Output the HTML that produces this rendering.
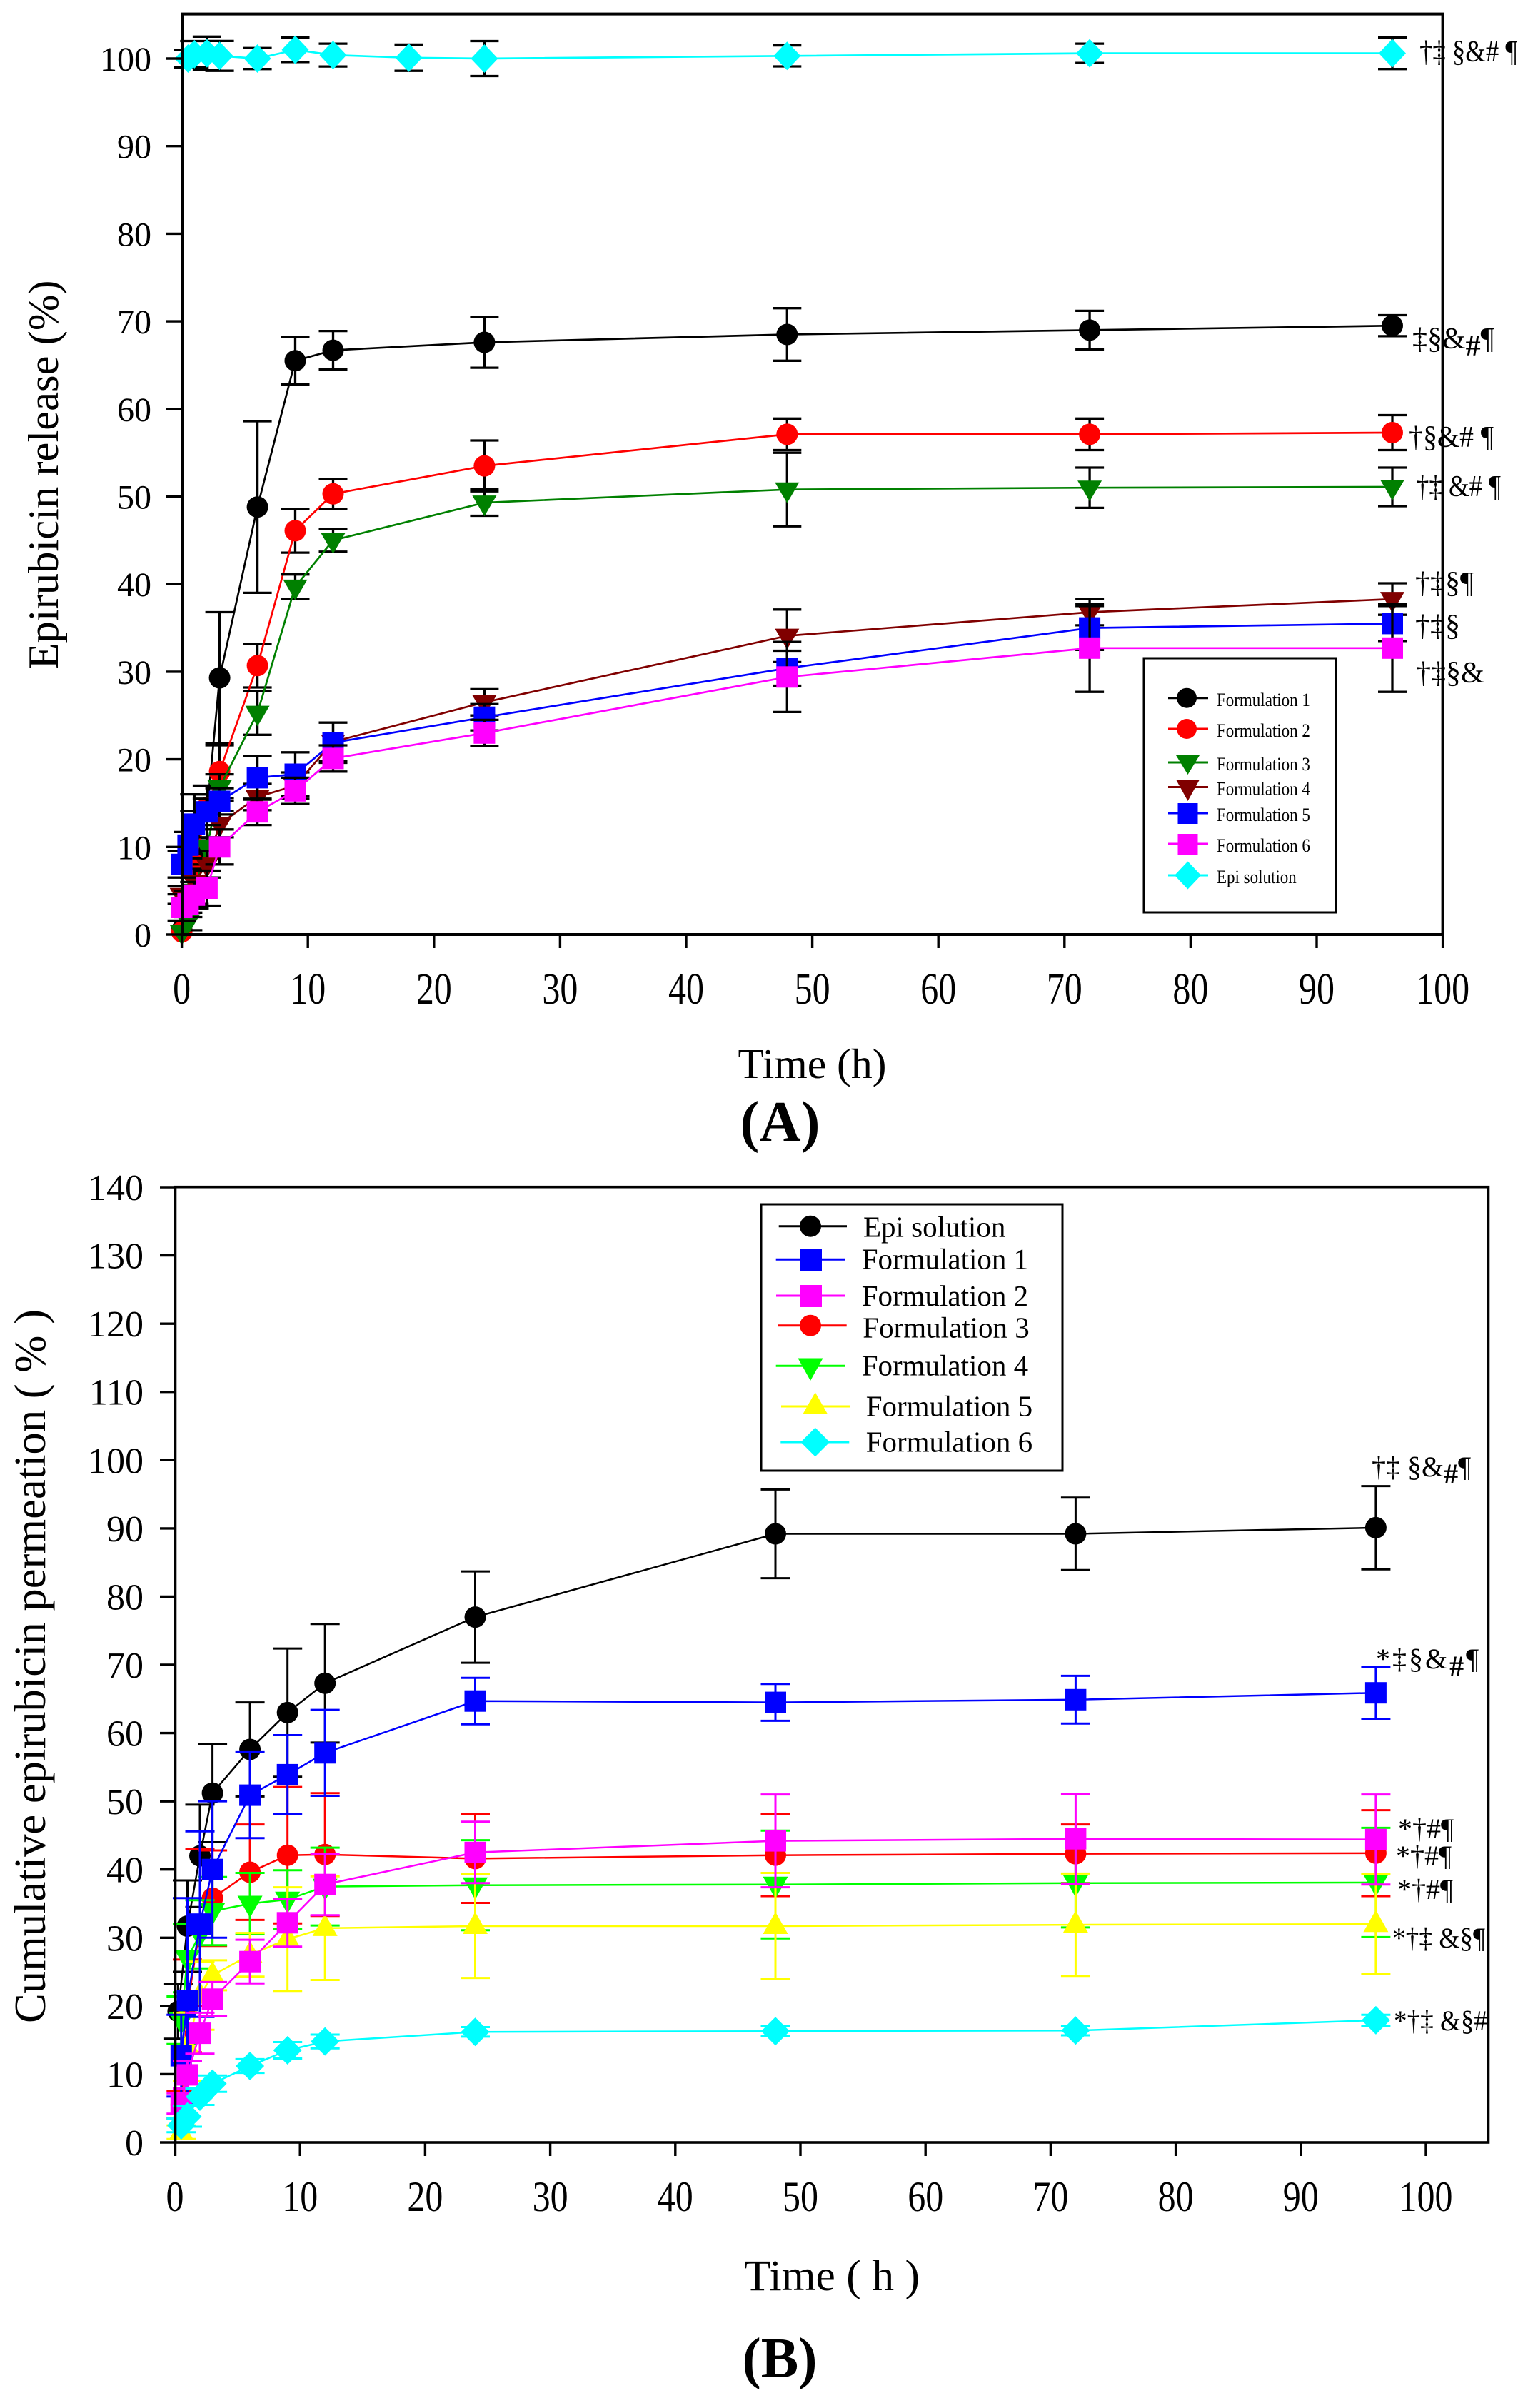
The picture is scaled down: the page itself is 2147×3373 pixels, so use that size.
<!DOCTYPE html>
<html><head><meta charset="utf-8"><style>html,body{margin:0;padding:0;background:#fff}svg{display:block}</style></head>
<body>
<svg xmlns="http://www.w3.org/2000/svg" width="2147" height="3373" viewBox="0 0 2147 3373" font-family="'Liberation Serif', serif">
<defs>
<marker id="a1" markerUnits="userSpaceOnUse" markerWidth="44" markerHeight="44" refX="22" refY="22" orient="0"><circle cx="22" cy="22" r="15" fill="#000"/></marker>
<marker id="a2" markerUnits="userSpaceOnUse" markerWidth="44" markerHeight="44" refX="22" refY="22" orient="0"><circle cx="22" cy="22" r="15" fill="#ff0000"/></marker>
<marker id="a3" markerUnits="userSpaceOnUse" markerWidth="44" markerHeight="44" refX="22" refY="22" orient="0"><path d="M5,12 L39,12 L22,41 Z" fill="#008000"/></marker>
<marker id="a4" markerUnits="userSpaceOnUse" markerWidth="44" markerHeight="44" refX="22" refY="22" orient="0"><path d="M5,12 L39,12 L22,41 Z" fill="#800000"/></marker>
<marker id="a5" markerUnits="userSpaceOnUse" markerWidth="44" markerHeight="44" refX="22" refY="22" orient="0"><rect x="7" y="7" width="30" height="30" fill="#0000ff"/></marker>
<marker id="a6" markerUnits="userSpaceOnUse" markerWidth="44" markerHeight="44" refX="22" refY="22" orient="0"><rect x="7" y="7" width="30" height="30" fill="#ff00ff"/></marker>
<marker id="a7" markerUnits="userSpaceOnUse" markerWidth="44" markerHeight="44" refX="22" refY="22" orient="0"><path d="M22,2 L41,22 L22,42 L3,22 Z" fill="#00ffff"/></marker>
<marker id="b0" markerUnits="userSpaceOnUse" markerWidth="44" markerHeight="44" refX="22" refY="22" orient="0"><circle cx="22" cy="22" r="15" fill="#000"/></marker>
<marker id="b1" markerUnits="userSpaceOnUse" markerWidth="44" markerHeight="44" refX="22" refY="22" orient="0"><rect x="7" y="7" width="30" height="30" fill="#0000ff"/></marker>
<marker id="b2" markerUnits="userSpaceOnUse" markerWidth="44" markerHeight="44" refX="22" refY="22" orient="0"><rect x="7" y="7" width="30" height="30" fill="#ff00ff"/></marker>
<marker id="b3" markerUnits="userSpaceOnUse" markerWidth="44" markerHeight="44" refX="22" refY="22" orient="0"><circle cx="22" cy="22" r="15" fill="#ff0000"/></marker>
<marker id="b4" markerUnits="userSpaceOnUse" markerWidth="44" markerHeight="44" refX="22" refY="22" orient="0"><path d="M4.5,11 L39.5,11 L22,42 Z" fill="#00ff00"/></marker>
<marker id="b5" markerUnits="userSpaceOnUse" markerWidth="44" markerHeight="44" refX="22" refY="22" orient="0"><path d="M22,2 L39.5,33 L4.5,33 Z" fill="#ffff00"/></marker>
<marker id="b6" markerUnits="userSpaceOnUse" markerWidth="44" markerHeight="44" refX="22" refY="22" orient="0"><path d="M22,2 L42,22 L22,42 L2,22 Z" fill="#00ffff"/></marker>
</defs>

<!-- ================= CHART A ================= -->
<g fill="none" stroke-linecap="butt">
<!-- F1 black -->
<path stroke="#000" stroke-width="3.3" d="M272.3,1112.6V1272.2M252.3,1112.6h40M252.3,1272.2h40M289.9,1100.4V1174M269.9,1100.4h40M269.9,1174h40M307.6,857.5V1041.5M287.6,857.5h40M287.6,1041.5h40M360.6,590V830.4M340.6,590h40M340.6,830.4h40M413.5,472.2V538.4M393.5,472.2h40M393.5,538.4h40M466.5,463.6V517.6M446.5,463.6h40M446.5,517.6h40M678.4,443.9V515.1M658.4,443.9h40M658.4,515.1h40M1102.3,431.7V505.3M1082.3,431.7h40M1082.3,505.3h40M1526.1,435.4V489.4M1506.1,435.4h40M1506.1,489.4h40M1950,441.5V470.9M1930,441.5h40M1930,470.9h40"/>
<polyline stroke="#000" stroke-width="2.7" marker-start="url(#a1)" marker-mid="url(#a1)" marker-end="url(#a1)" points="254.6,1302.9 272.3,1192.4 289.9,1137.2 307.6,949.5 360.6,710.2 413.5,505.3 466.5,490.6 678.4,479.5 1102.3,468.5 1526.1,462.4 1950,456.2"/>
<!-- F2 red -->
<path stroke="#000" stroke-width="3.3" d="M272.3,1192.4V1229.2M252.3,1192.4h40M252.3,1229.2h40M289.9,1112.7V1149.5M269.9,1112.7h40M269.9,1149.5h40M307.6,1044V1117.6M287.6,1044h40M287.6,1117.6h40M360.6,901.6V963M340.6,901.6h40M340.6,963h40M413.5,712.7V774.1M393.5,712.7h40M393.5,774.1h40M466.5,670.9V712.7M446.5,670.9h40M446.5,712.7h40M678.4,617V688.2M658.4,617h40M658.4,688.2h40M1102.3,586.3V630.5M1082.3,586.3h40M1082.3,630.5h40M1526.1,586.3V630.5M1506.1,586.3h40M1506.1,630.5h40M1950,581.5V630.5M1930,581.5h40M1930,630.5h40"/>
<polyline stroke="#ff0000" stroke-width="2.7" marker-start="url(#a2)" marker-mid="url(#a2)" marker-end="url(#a2)" points="254.6,1305.3 272.3,1210.8 289.9,1131.1 307.6,1080.8 360.6,932.3 413.5,743.4 466.5,691.8 678.4,652.6 1102.3,608.4 1526.1,608.4 1950,606"/>
<!-- F3 green -->
<path stroke="#000" stroke-width="3.3" d="M263.4,1278.3V1302.9M243.4,1278.3h40M243.4,1302.9h40M272.3,1229.3V1266.1M252.3,1229.3h40M252.3,1266.1h40M289.9,1161.8V1210.8M269.9,1161.8h40M269.9,1210.8h40M307.6,1084.6V1121.4M287.6,1084.6h40M287.6,1121.4h40M360.6,967.9V1029.3M340.6,967.9h40M340.6,1029.3h40M413.5,804.7V839.1M393.5,804.7h40M393.5,839.1h40M466.5,740.8V772.8M446.5,740.8h40M446.5,772.8h40M678.4,685.7V722.5M658.4,685.7h40M658.4,722.5h40M1102.3,634.2V737.2M1082.3,634.2h40M1082.3,737.2h40M1526.1,655V711.4M1506.1,655h40M1506.1,711.4h40M1950,655V709M1930,655h40M1930,709h40"/>
<polyline stroke="#008000" stroke-width="2.7" marker-start="url(#a3)" marker-mid="url(#a3)" marker-end="url(#a3)" points="254.6,1305.3 263.4,1290.6 272.3,1247.7 289.9,1186.3 307.6,1103 360.6,998.6 413.5,821.9 466.5,756.8 678.4,704.1 1102.3,685.7 1526.1,683.2 1950,682"/>
<!-- F4 dark red -->
<path stroke="#000" stroke-width="3.3" d="M254.6,1241.5V1266.1M234.6,1241.5h40M234.6,1266.1h40M272.3,1217V1253.8M252.3,1217h40M252.3,1253.8h40M289.9,1192.4V1229.2M269.9,1192.4h40M269.9,1229.2h40M307.6,1136V1172.8M287.6,1136h40M287.6,1172.8h40M360.6,1098V1134.8M340.6,1098h40M340.6,1134.8h40M413.5,1082V1118.8M393.5,1082h40M393.5,1118.8h40M466.5,1012.1V1066.1M446.5,1012.1h40M446.5,1066.1h40M678.4,965.4V1002.2M658.4,965.4h40M658.4,1002.2h40M1102.3,853.8V927.4M1082.3,853.8h40M1082.3,927.4h40M1526.1,839.1V875.9M1506.1,839.1h40M1506.1,875.9h40M1950,817V861.2M1930,817h40M1930,861.2h40"/>
<polyline stroke="#800000" stroke-width="2.7" marker-start="url(#a4)" marker-mid="url(#a4)" marker-end="url(#a4)" points="254.6,1253.8 272.3,1235.4 289.9,1210.8 307.6,1154.4 360.6,1116.4 413.5,1100.4 466.5,1039.1 678.4,983.8 1102.3,890.6 1526.1,857.5 1950,839.1"/>
<!-- F5 blue -->
<path stroke="#000" stroke-width="3.3" d="M254.6,1192.4V1229.2M234.6,1192.4h40M234.6,1229.2h40M263.4,1165.4V1202.2M243.4,1165.4h40M243.4,1202.2h40M272.3,1136V1172.8M252.3,1136h40M252.3,1172.8h40M289.9,1118.8V1155.6M269.9,1118.8h40M269.9,1155.6h40M307.6,1104.1V1140.9M287.6,1104.1h40M287.6,1140.9h40M360.6,1058.7V1120.1M340.6,1058.7h40M340.6,1120.1h40M413.5,1053.8V1115.2M393.5,1053.8h40M393.5,1115.2h40M466.5,1012.1V1068.5M446.5,1012.1h40M446.5,1068.5h40M678.4,986.3V1023.1M658.4,986.3h40M658.4,1023.1h40M1102.3,911.5V960.5M1082.3,911.5h40M1082.3,960.5h40M1526.1,848.9V910.3M1506.1,848.9h40M1506.1,910.3h40M1950,848.9V897.9M1930,848.9h40M1930,897.9h40"/>
<polyline stroke="#0000ff" stroke-width="2.7" marker-start="url(#a5)" marker-mid="url(#a5)" marker-end="url(#a5)" points="254.6,1210.8 263.4,1183.8 272.3,1154.4 289.9,1137.2 307.6,1122.5 360.6,1089.4 413.5,1084.5 466.5,1040.3 678.4,1004.7 1102.3,936 1526.1,879.6 1950,873.4"/>
<!-- F6 magenta -->
<path stroke="#000" stroke-width="3.3" d="M254.6,1252.6V1289.4M234.6,1252.6h40M234.6,1289.4h40M263.4,1247.7V1284.5M243.4,1247.7h40M243.4,1284.5h40M272.3,1235.4V1272.2M252.3,1235.4h40M252.3,1272.2h40M289.9,1219.5V1268.5M269.9,1219.5h40M269.9,1268.5h40M307.6,1161.8V1210.8M287.6,1161.8h40M287.6,1210.8h40M360.6,1118.8V1155.6M340.6,1118.8h40M340.6,1155.6h40M413.5,1089.4V1126.2M393.5,1089.4h40M393.5,1126.2h40M466.5,1044V1080.8M446.5,1044h40M446.5,1080.8h40M678.4,1008.4V1045.2M658.4,1008.4h40M658.4,1045.2h40M1102.3,899.2V997.4M1082.3,899.2h40M1082.3,997.4h40M1526.1,846.4V969.2M1506.1,846.4h40M1506.1,969.2h40M1950,846.4V969.2M1930,846.4h40M1930,969.2h40"/>
<polyline stroke="#ff00ff" stroke-width="2.7" marker-start="url(#a6)" marker-mid="url(#a6)" marker-end="url(#a6)" points="254.6,1271 263.4,1266.1 272.3,1253.8 289.9,1244 307.6,1186.3 360.6,1137.2 413.5,1107.8 466.5,1062.4 678.4,1026.8 1102.3,948.3 1526.1,907.8 1950,907.8"/>
<!-- Epi cyan -->
<path stroke="#000" stroke-width="3.3" d="M263.4,69.7V94.3M243.4,69.7h40M243.4,94.3h40M272.3,57.5V94.3M252.3,57.5h40M252.3,94.3h40M289.9,51.3V97.9M269.9,51.3h40M269.9,97.9h40M307.6,57.4V99.2M287.6,57.4h40M287.6,99.2h40M360.6,67.3V96.7M340.6,67.3h40M340.6,96.7h40M413.5,52.5V86.9M393.5,52.5h40M393.5,86.9h40M466.5,61.1V93.1M446.5,61.1h40M446.5,93.1h40M572.5,62.4V99.2M552.5,62.4h40M552.5,99.2h40M678.4,57.5V106.5M658.4,57.5h40M658.4,106.5h40M1102.3,63.6V93M1082.3,63.6h40M1082.3,93h40M1526.1,61.1V88.1M1506.1,61.1h40M1506.1,88.1h40M1950,52.5V96.7M1930,52.5h40M1930,96.7h40"/>
<polyline stroke="#00ffff" stroke-width="2.7" marker-start="url(#a7)" marker-mid="url(#a7)" marker-end="url(#a7)" points="263.4,82 272.3,75.9 289.9,74.6 307.6,78.3 360.6,82 413.5,69.7 466.5,77.1 572.5,80.8 678.4,82 1102.3,78.3 1526.1,74.6 1950,74.6"/>

<!-- axes A -->
<rect x="255" y="19.6" width="1765.6" height="1289.4" stroke="#000" stroke-width="4"/>
<path stroke="#000" stroke-width="3.4" d="M233,1309h22M233,1186.3h22M233,1063.6h22M233,940.9h22M233,818.2h22M233,695.5h22M233,572.8h22M233,450.1h22M233,327.4h22M233,204.7h22M233,82h22M254.6,1309v19M431.2,1309v19M607.8,1309v19M784.4,1309v19M961,1309v19M1137.6,1309v19M1314.2,1309v19M1490.8,1309v19M1667.4,1309v19M1844,1309v19M2020.6,1309v19"/>
</g>

<g font-size="48" text-anchor="end" fill="#000">
<text x="212" y="1326">0</text><text x="212" y="1203.3">10</text><text x="212" y="1080.6">20</text><text x="212" y="957.9">30</text><text x="212" y="835.2">40</text><text x="212" y="712.5">50</text><text x="212" y="589.8">60</text><text x="212" y="467.1">70</text><text x="212" y="344.4">80</text><text x="212" y="221.7">90</text><text x="212" y="99">100</text>
</g>
<g font-size="50" text-anchor="middle" fill="#000">
<text transform="translate(254.6,1406) scale(1,1.25)">0</text><text transform="translate(431.2,1406) scale(1,1.25)">10</text><text transform="translate(607.8,1406) scale(1,1.25)">20</text><text transform="translate(784.4,1406) scale(1,1.25)">30</text><text transform="translate(961,1406) scale(1,1.25)">40</text><text transform="translate(1137.6,1406) scale(1,1.25)">50</text><text transform="translate(1314.2,1406) scale(1,1.25)">60</text><text transform="translate(1490.8,1406) scale(1,1.25)">70</text><text transform="translate(1667.4,1406) scale(1,1.25)">80</text><text transform="translate(1844,1406) scale(1,1.25)">90</text><text transform="translate(2020.6,1406) scale(1,1.25)">100</text>
</g>
<text transform="translate(81,665) rotate(-90)" text-anchor="middle" font-size="60" textLength="545" lengthAdjust="spacingAndGlyphs">Epirubicin release (%)</text>
<text x="1137.5" y="1510" text-anchor="middle" font-size="59" textLength="208" lengthAdjust="spacingAndGlyphs">Time (h)</text>
<text x="1092.5" y="1598" text-anchor="middle" font-size="80" font-weight="bold" textLength="112" lengthAdjust="spacingAndGlyphs">(A)</text>

<!-- legend A -->
<rect x="1602" y="922" width="269" height="356" fill="#fff" stroke="#000" stroke-width="3"/>
<g stroke-width="3">
<line x1="1636" y1="977.7" x2="1692" y2="977.7" stroke="#000"/><circle cx="1662" cy="977.7" r="14" fill="#000"/>
<line x1="1636" y1="1021" x2="1692" y2="1021" stroke="#ff0000"/><circle cx="1662" cy="1021" r="14" fill="#ff0000"/>
<line x1="1636" y1="1068" x2="1692" y2="1068" stroke="#008000"/><path d="M1647,1058 L1680,1058 L1663.5,1085 Z" fill="#008000"/>
<line x1="1636" y1="1102.5" x2="1692" y2="1102.5" stroke="#800000"/><path d="M1647,1092 L1680,1092 L1663.5,1122 Z" fill="#800000"/>
<line x1="1636" y1="1139" x2="1692" y2="1139" stroke="#0000ff"/><rect x="1649.5" y="1125" width="28" height="29" fill="#0000ff"/>
<line x1="1636" y1="1182" x2="1692" y2="1182" stroke="#ff00ff"/><rect x="1649.5" y="1168" width="28" height="29" fill="#ff00ff"/>
<line x1="1636" y1="1226" x2="1692" y2="1226" stroke="#00ffff"/><path d="M1663.5,1206.5 L1682,1226 L1663.5,1245.5 L1645,1226 Z" fill="#00ffff"/>
</g>
<g font-size="23" fill="#000">
<text transform="translate(1704,989) scale(1,1.17)">Formulation 1</text>
<text transform="translate(1704,1032) scale(1,1.17)">Formulation 2</text>
<text transform="translate(1704,1079) scale(1,1.17)">Formulation 3</text>
<text transform="translate(1704,1113.5) scale(1,1.17)">Formulation 4</text>
<text transform="translate(1704,1150) scale(1,1.17)">Formulation 5</text>
<text transform="translate(1704,1193) scale(1,1.17)">Formulation 6</text>
<text transform="translate(1704,1237) scale(1,1.17)">Epi solution</text>
</g>

<!-- annotations A -->
<g font-size="42" fill="#000">
<text x="1988" y="86" textLength="137" lengthAdjust="spacingAndGlyphs">†‡ §&amp;# ¶</text>
<text x="1978" y="488">‡§&amp;<tspan font-weight="bold" dy="10">#</tspan><tspan dy="-10">¶</tspan></text>
<text x="1973" y="626" textLength="119" lengthAdjust="spacingAndGlyphs">†§&amp;# ¶</text>
<text x="1983" y="695" textLength="119" lengthAdjust="spacingAndGlyphs">†‡ &amp;# ¶</text>
<text x="1982" y="830">†‡§¶</text>
<text x="1982" y="890">†‡§</text>
<text x="1983" y="956">†‡§&amp;</text>
</g>

<!-- ================= CHART B ================= -->
<g fill="none" stroke-linecap="butt">
<!-- Epi black -->
<path stroke="#000" stroke-width="3" d="M249.4,2779.3V2855.7M228.9,2779.3h41M228.9,2855.7h41M262.5,2634V2762M242,2634h41M242,2762h41M280,2527.9V2671.3M259.5,2527.9h41M259.5,2671.3h41M297.6,2442.9V2580.5M277.1,2442.9h41M277.1,2580.5h41M350.1,2384.6V2516.4M329.6,2384.6h41M329.6,2516.4h41M402.7,2309.1V2488.7M382.2,2309.1h41M382.2,2488.7h41M455.2,2274.7V2440.9M434.7,2274.7h41M434.7,2440.9h41M665.5,2201.1V2329.1M645,2201.1h41M645,2329.1h41M1086,2086.4V2210.6M1065.5,2086.4h41M1065.5,2210.6h41M1506.4,2097.8V2199.2M1485.9,2097.8h41M1485.9,2199.2h41M1926.9,2081.6V2198.2M1906.4,2081.6h41M1906.4,2198.2h41"/>
<polyline stroke="#000" stroke-width="2.5" marker-start="url(#b0)" marker-mid="url(#b0)" marker-end="url(#b0)" points="249.4,2817.5 262.5,2698 280,2599.6 297.6,2511.7 350.1,2450.5 402.7,2398.9 455.2,2357.8 665.5,2265.1 1086,2148.5 1506.4,2148.5 1926.9,2139.9"/>
<!-- F3 red -->
<path stroke="#ff0000" stroke-width="3" d="M253.8,2929.3V2967.5M233.3,2929.3h41M233.3,2967.5h41M262.5,2744.9V2874.9M242,2744.9h41M242,2874.9h41M280,2590.1V2809.9M259.5,2590.1h41M259.5,2809.9h41M297.6,2592V2725.8M277.1,2592h41M277.1,2725.8h41M350.1,2555.6V2689.4M329.6,2555.6h41M329.6,2689.4h41M402.7,2503.1V2694.3M382.2,2503.1h41M382.2,2694.3h41M455.2,2511.7V2683.7M434.7,2511.7h41M434.7,2683.7h41M665.5,2541.3V2665.5M645,2541.3h41M645,2665.5h41M1086,2541.4V2656M1065.5,2541.4h41M1065.5,2656h41M1506.4,2555.6V2637.8M1485.9,2555.6h41M1485.9,2637.8h41M1926.9,2535.6V2656M1906.4,2535.6h41M1906.4,2656h41"/>
<polyline stroke="#ff0000" stroke-width="2.5" marker-start="url(#b3)" marker-mid="url(#b3)" marker-end="url(#b3)" points="253.8,2948.4 262.5,2809.9 280,2700 297.6,2658.9 350.1,2622.5 402.7,2598.7 455.2,2597.7 665.5,2603.4 1086,2598.7 1506.4,2596.7 1926.9,2595.8"/>
<!-- F4 green -->
<path stroke="#00ff00" stroke-width="3" d="M253.8,2796.5V2863.3M233.3,2796.5h41M233.3,2863.3h41M262.5,2695.2V2790.8M242,2695.2h41M242,2790.8h41M280,2661.7V2757.3M259.5,2661.7h41M259.5,2757.3h41M297.6,2629.2V2724.8M277.1,2629.2h41M277.1,2724.8h41M350.1,2623.5V2709.5M329.6,2623.5h41M329.6,2709.5h41M402.7,2619.7V2701.9M382.2,2619.7h41M382.2,2701.9h41M455.2,2588.1V2697.1M434.7,2588.1h41M434.7,2697.1h41M665.5,2577.6V2703.8M645,2577.6h41M645,2703.8h41M1086,2564.2V2715.2M1065.5,2564.2h41M1065.5,2715.2h41M1506.4,2575.7V2699.9M1485.9,2575.7h41M1485.9,2699.9h41M1926.9,2560.4V2713.4M1906.4,2560.4h41M1906.4,2713.4h41"/>
<polyline stroke="#00ff00" stroke-width="2.5" marker-start="url(#b4)" marker-mid="url(#b4)" marker-end="url(#b4)" points="253.8,2829.9 262.5,2743 280,2709.5 297.6,2677 350.1,2666.5 402.7,2660.8 455.2,2642.6 665.5,2640.7 1086,2639.7 1506.4,2637.8 1926.9,2636.9"/>
<!-- F5 yellow -->
<path stroke="#ffff00" stroke-width="3" d="M253.8,2977.1V2996.3M233.3,2977.1h41M233.3,2996.3h41M262.5,2819.4V2915M242,2819.4h41M242,2915h41M280,2747.7V2843.3M259.5,2747.7h41M259.5,2843.3h41M297.6,2745.9V2787.9M277.1,2745.9h41M277.1,2787.9h41M350.1,2707.6V2768.8M329.6,2707.6h41M329.6,2768.8h41M402.7,2643.6V2788.8M382.2,2643.6h41M382.2,2788.8h41M455.2,2628.3V2773.5M434.7,2628.3h41M434.7,2773.5h41M665.5,2625.4V2770.6M645,2625.4h41M645,2770.6h41M1086,2623.5V2772.5M1065.5,2623.5h41M1065.5,2772.5h41M1506.4,2624.4V2767.8M1485.9,2624.4h41M1485.9,2767.8h41M1926.9,2625.4V2765M1906.4,2625.4h41M1906.4,2765h41"/>
<polyline stroke="#ffff00" stroke-width="2.5" marker-start="url(#b5)" marker-mid="url(#b5)" marker-end="url(#b5)" points="253.8,2986.7 262.5,2867.2 280,2795.5 297.6,2766.9 350.1,2738.2 402.7,2716.2 455.2,2700.9 665.5,2698 1086,2698 1506.4,2696.1 1926.9,2695.2"/>
<!-- F1 blue -->
<path stroke="#0000ff" stroke-width="3" d="M253.8,2822.3V2936.9M233.3,2822.3h41M233.3,2936.9h41M262.5,2658.8V2945.6M242,2658.8h41M242,2945.6h41M280,2565.2V2825.2M259.5,2565.2h41M259.5,2825.2h41M297.6,2523.1V2714.3M277.1,2523.1h41M277.1,2714.3h41M350.1,2454.4V2574.8M329.6,2454.4h41M329.6,2574.8h41M402.7,2430.5V2541.3M382.2,2430.5h41M382.2,2541.3h41M455.2,2395.1V2515.5M434.7,2395.1h41M434.7,2515.5h41M665.5,2350.2V2415.2M645,2350.2h41M645,2415.2h41M1086,2358.8V2410.4M1065.5,2358.8h41M1065.5,2410.4h41M1506.4,2347.4V2414.2M1485.9,2347.4h41M1485.9,2414.2h41M1926.9,2334.9V2407.5M1906.4,2334.9h41M1906.4,2407.5h41"/>
<polyline stroke="#0000ff" stroke-width="2.5" marker-start="url(#b1)" marker-mid="url(#b1)" marker-end="url(#b1)" points="253.8,2879.6 262.5,2802.2 280,2695.2 297.6,2618.7 350.1,2514.6 402.7,2485.9 455.2,2455.3 665.5,2382.7 1086,2384.6 1506.4,2380.8 1926.9,2371.2"/>
<!-- F2 magenta -->
<path stroke="#ff00ff" stroke-width="3" d="M253.8,2932.2V2960.8M233.3,2932.2h41M233.3,2960.8h41M262.5,2887.3V2925.5M242,2887.3h41M242,2925.5h41M280,2819.4V2876.8M259.5,2819.4h41M259.5,2876.8h41M297.6,2776.4V2824.2M277.1,2776.4h41M277.1,2824.2h41M350.1,2717.1V2778.3M329.6,2717.1h41M329.6,2778.3h41M402.7,2659.9V2726.7M382.2,2659.9h41M382.2,2726.7h41M455.2,2596.7V2682.7M434.7,2596.7h41M434.7,2682.7h41M665.5,2551.8V2637.8M645,2551.8h41M645,2637.8h41M1086,2513.6V2643.6M1065.5,2513.6h41M1065.5,2643.6h41M1506.4,2512.6V2638.8M1485.9,2512.6h41M1485.9,2638.8h41M1926.9,2513.6V2639.8M1906.4,2513.6h41M1906.4,2639.8h41"/>
<polyline stroke="#ff00ff" stroke-width="2.5" marker-start="url(#b2)" marker-mid="url(#b2)" marker-end="url(#b2)" points="253.8,2946.5 262.5,2906.4 280,2848.1 297.6,2800.3 350.1,2747.7 402.7,2693.3 455.2,2639.7 665.5,2594.8 1086,2578.6 1506.4,2575.7 1926.9,2576.7"/>
<!-- F6 cyan -->
<path stroke="#00ffff" stroke-width="3" d="M253.8,2967.5V2986.7M233.3,2967.5h41M233.3,2986.7h41M262.5,2950.4V2979M242,2950.4h41M242,2979h41M280,2925.5V2948.5M259.5,2925.5h41M259.5,2948.5h41M297.6,2907.3V2930.3M277.1,2907.3h41M277.1,2930.3h41M350.1,2884.4V2903.6M329.6,2884.4h41M329.6,2903.6h41M402.7,2860.5V2883.5M382.2,2860.5h41M382.2,2883.5h41M455.2,2850V2869.2M434.7,2850h41M434.7,2869.2h41M665.5,2839.5V2852.9M645,2839.5h41M645,2852.9h41M1086,2838.5V2851.9M1065.5,2838.5h41M1065.5,2851.9h41M1506.4,2837.6V2851M1485.9,2837.6h41M1485.9,2851h41M1926.9,2822.3V2837.5M1906.4,2822.3h41M1906.4,2837.5h41"/>
<polyline stroke="#00ffff" stroke-width="2.5" marker-start="url(#b6)" marker-mid="url(#b6)" marker-end="url(#b6)" points="253.8,2977.1 262.5,2964.7 280,2937 297.6,2918.8 350.1,2894 402.7,2872 455.2,2859.6 665.5,2846.2 1086,2845.2 1506.4,2844.3 1926.9,2829.9"/>

<!-- axes B -->
<rect x="245.5" y="1662.7" width="1839" height="1338.3" stroke="#000" stroke-width="3.6"/>
<path stroke="#000" stroke-width="3.4" d="M224,3001h21M224,2905.4h21M224,2809.9h21M224,2714.3h21M224,2618.7h21M224,2523.2h21M224,2427.6h21M224,2332h21M224,2236.4h21M224,2140.9h21M224,2045.3h21M224,1949.7h21M224,1854.2h21M224,1758.6h21M224,1663h21M245.5,3001v19M420.2,3001v19M595.4,3001v19M770.6,3001v19M945.8,3001v19M1121,3001v19M1296.2,3001v19M1471.4,3001v19M1646.6,3001v19M1821.8,3001v19M1997,3001v19"/>
</g>

<g font-size="52" text-anchor="end" fill="#000">
<text x="201" y="3019">0</text><text x="201" y="2923.4">10</text><text x="201" y="2827.9">20</text><text x="201" y="2732.3">30</text><text x="201" y="2636.7">40</text><text x="201" y="2541.2">50</text><text x="201" y="2445.6">60</text><text x="201" y="2350">70</text><text x="201" y="2254.4">80</text><text x="201" y="2158.9">90</text><text x="201" y="2063.3">100</text><text x="201" y="1967.7">110</text><text x="201" y="1872.2">120</text><text x="201" y="1776.6">130</text><text x="201" y="1681">140</text>
</g>
<g font-size="50" text-anchor="middle" fill="#000">
<text transform="translate(245,3097) scale(1,1.2)">0</text><text transform="translate(420.2,3097) scale(1,1.2)">10</text><text transform="translate(595.4,3097) scale(1,1.2)">20</text><text transform="translate(770.6,3097) scale(1,1.2)">30</text><text transform="translate(945.8,3097) scale(1,1.2)">40</text><text transform="translate(1121,3097) scale(1,1.2)">50</text><text transform="translate(1296.2,3097) scale(1,1.2)">60</text><text transform="translate(1471.4,3097) scale(1,1.2)">70</text><text transform="translate(1646.6,3097) scale(1,1.2)">80</text><text transform="translate(1821.8,3097) scale(1,1.2)">90</text><text transform="translate(1997,3097) scale(1,1.2)">100</text>
</g>
<text transform="translate(63,2334) rotate(-90)" text-anchor="middle" font-size="62" textLength="1000" lengthAdjust="spacingAndGlyphs">Cumulative epirubicin permeation ( % )</text>
<text x="1165" y="3208" text-anchor="middle" font-size="61" textLength="246" lengthAdjust="spacingAndGlyphs">Time ( h )</text>
<text x="1092" y="3330" text-anchor="middle" font-size="80" font-weight="bold" textLength="105" lengthAdjust="spacingAndGlyphs">(B)</text>

<!-- legend B -->
<rect x="1066" y="1687" width="422" height="373" fill="#fff" stroke="#000" stroke-width="3"/>
<g stroke-width="3">
<line x1="1090.7" y1="1717.7" x2="1186" y2="1717.7" stroke="#000"/><circle cx="1135" cy="1717.7" r="15" fill="#000"/>
<line x1="1086.7" y1="1764.3" x2="1183.3" y2="1764.3" stroke="#0000ff"/><rect x="1120" y="1749" width="31" height="31" fill="#0000ff"/>
<line x1="1087" y1="1815" x2="1184" y2="1815" stroke="#ff00ff"/><rect x="1120" y="1800" width="31" height="31" fill="#ff00ff"/>
<line x1="1089" y1="1856.7" x2="1185.7" y2="1856.7" stroke="#ff0000"/><circle cx="1135" cy="1856.7" r="15" fill="#ff0000"/>
<line x1="1086.7" y1="1913.3" x2="1183.3" y2="1913.3" stroke="#00ff00"/><path d="M1117.5,1902.5 L1152.5,1902.5 L1135,1934 Z" fill="#00ff00"/>
<line x1="1094" y1="1970" x2="1190" y2="1970" stroke="#ffff00"/><path d="M1141.7,1950.3 L1159.2,1981 L1124.2,1981 Z" fill="#ffff00"/>
<line x1="1093.3" y1="2020" x2="1189.3" y2="2020" stroke="#00ffff"/><path d="M1141.7,1999.7 L1162,2020 L1141.7,2040.3 L1121.4,2020 Z" fill="#00ffff"/>
</g>
<g font-size="41" fill="#000">
<text x="1209" y="1732.3">Epi solution</text>
<text x="1206.7" y="1777.7">Formulation 1</text>
<text x="1206.7" y="1829">Formulation 2</text>
<text x="1208.3" y="1873.3">Formulation 3</text>
<text x="1206.7" y="1926.7">Formulation 4</text>
<text x="1212.7" y="1983.3">Formulation 5</text>
<text x="1212.7" y="2033.3">Formulation 6</text>
</g>

<!-- annotations B -->
<g font-size="40" fill="#000">
<text x="1921" y="2068">†‡ §&amp;<tspan font-weight="bold" dy="10">#</tspan><tspan dy="-10">¶</tspan></text>
<text x="1927" y="2337" letter-spacing="3">*‡§&amp;<tspan font-weight="bold" dy="10">#</tspan><tspan dy="-10">¶</tspan></text>
<text x="1958" y="2575">*†#¶</text>
<text x="1955" y="2613">*†#¶</text>
<text x="1957" y="2660">*†#¶</text>
<text x="1950" y="2728" textLength="130" lengthAdjust="spacingAndGlyphs">*†‡ &amp;§¶</text>
<text x="1952" y="2844" textLength="131" lengthAdjust="spacingAndGlyphs">*†‡ &amp;§#</text>
</g>
</svg>
</body></html>
